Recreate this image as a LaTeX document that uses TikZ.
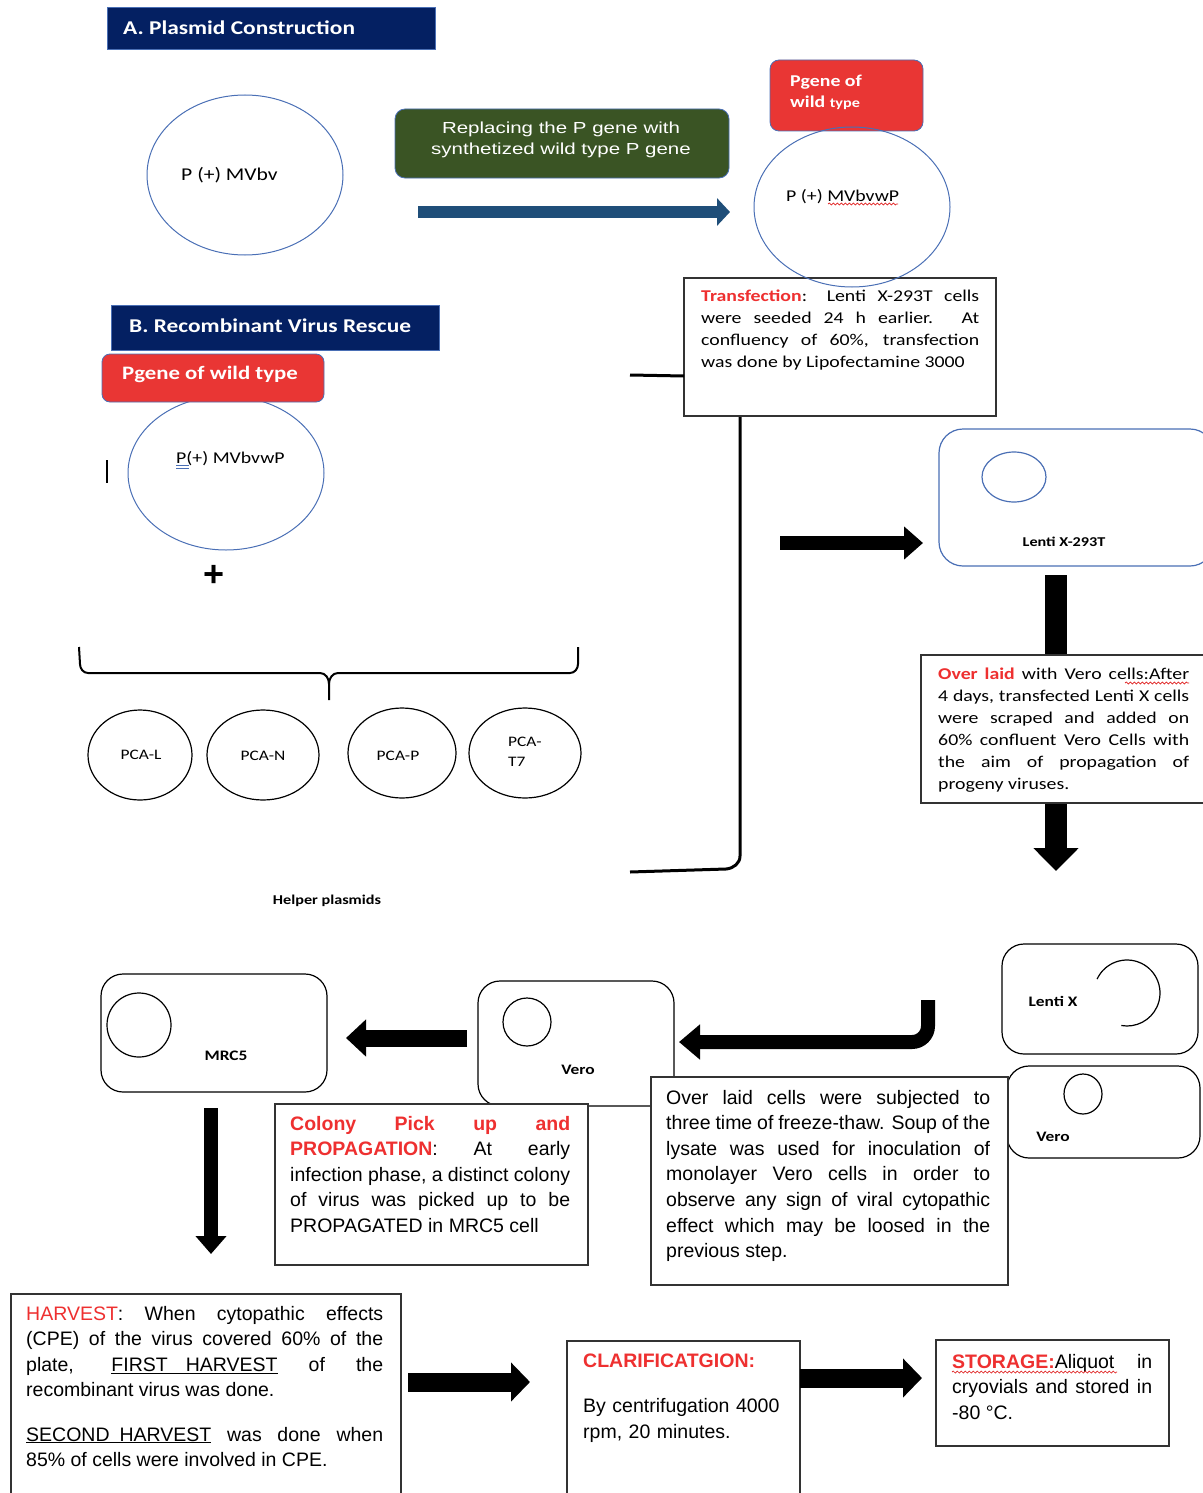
\documentclass[tikz,border=0pt]{standalone}
\usepackage{fontspec}
\usetikzlibrary{arrows.meta,decorations.pathmorphing}
\newfontfamily\cfont[FakeStretch=1.2]{Carlito}
\newfontfamily\afont{Liberation Sans}
\newfontfamily\asfont[FakeStretch=1.28]{Liberation Sans}
\definecolor{navy}{HTML}{042062}
\definecolor{boxred}{HTML}{E93634}
\definecolor{boxgreen}{HTML}{3A5424}
\definecolor{arrowblue}{HTML}{1F4E79}
\definecolor{ringblue}{HTML}{4A6FB5}
\definecolor{tred}{HTML}{EE3030}
\definecolor{spell}{HTML}{E02020}
\begin{document}
\begin{tikzpicture}[x=1pt,y=-1pt,
  title/.style={fill=navy,draw=ringblue,line width=0.8,anchor=north west,inner sep=0},
  txtbox/.style={draw=black!80,line width=1.2,fill=white},
  cellbox/.style={draw=black,line width=1.2,rounded corners=22,fill=white},
  celllabel/.style={font={\cfont\bfseries\fontsize{14.5}{16}\selectfont},inner sep=0,anchor=base},
  ctext/.style={font={\cfont\fontsize{16.5}{22}\selectfont},inner sep=0,anchor=base west,align=justify},
  atext/.style={font={\afont\fontsize{19.5}{25.6}\selectfont},inner sep=0,anchor=base west,align=justify},
  pca/.style={font={\cfont\fontsize{14.5}{20}\selectfont},inner sep=0},
  spellwave/.style={spell,line width=0.7,decorate,decoration={snake,amplitude=1pt,segment length=4pt}}
]
\useasboundingbox (0,0) rectangle (1202,1493);

% ---------------- Section A ----------------
\node[title,minimum width=328,minimum height=42] (tA) at (107,7) {};
\node[anchor=west,inner sep=0,text=white,font={\cfont\bfseries\fontsize{19.5}{22}\selectfont}] (tAt) at (123,28) {A. Plasmid Construction};

\draw[ringblue,line width=1] (245,175) ellipse [x radius=98,y radius=80];
\node[inner sep=0,anchor=base west,font={\cfont\fontsize{18}{20}\selectfont}] (pmv) at (181,180) {P (+) MVbv};

\draw[fill=boxgreen,draw=ringblue,line width=0.8,rounded corners=10] (395,109) rectangle (729,178);
\node[inner sep=0,align=center,text=white,font={\asfont\fontsize{16}{21}\selectfont}] (green) at (561,140)
  {Replacing the P gene with\\synthetized wild type P gene};

\coordinate (ba1) at (418,212);
\coordinate (ba2) at (730,212);
\draw[arrowblue,line width=12,-{Triangle[length=13pt,width=27pt]}] (ba1) -- (ba2);

% transfection box
\draw[txtbox] (684,278) rectangle (996,416);
\node[ctext,text width=278] (transf) at (701,301)
 {{\bfseries\color{tred}Transfection}: Lenti X-293T cells\linebreak were seeded 24 h earlier. At\linebreak confluency of 60\%, transfection\linebreak was done by Lipofectamine 3000};

% red box and ring top right
\draw[fill=boxred,draw=ringblue,line width=0.8,rounded corners=9] (770,60) rectangle (923,131);
\node[inner sep=0,anchor=base west,text=white,align=left] (pg1) at (790,87)
  {\cfont\bfseries\fontsize{16.5}{18}\selectfont Pgene of};
\node[inner sep=0,anchor=base west,text=white] (pg2) at (790,108)
  {\cfont\bfseries\fontsize{16.5}{18}\selectfont wild \fontsize{13.5}{16}\selectfont type};
\draw[ringblue,line width=1] (852,207) ellipse [x radius=98,y radius=80];
\node[inner sep=0,anchor=base west,font={\cfont\fontsize{16.5}{20}\selectfont}] (pmvw) at (786,201) {P (+) MVbvwP};
\draw[spellwave] (828,204) -- (898,204);

% bracket lines
\draw[line width=3] (630,375) -- (684,376);
\draw[line width=3] (740,417) -- (740,856) to[out=-90,in=5] (726,869) -- (630,872);

% arrow to Lenti X-293T
\coordinate (a1s) at (780,543);
\coordinate (a1e) at (923,543);
\draw[line width=14,-{Triangle[length=19pt,width=32pt]}] (a1s) -- (a1e);

% Lenti X-293T cell
\draw[draw=ringblue,line width=1.2,rounded corners=24,fill=white] (939,429) rectangle (1214,566);
\draw[ringblue,line width=1.2] (1014,477) ellipse [x radius=32,y radius=25];
\node[celllabel,font={\cfont\bfseries\fontsize{13.5}{16}\selectfont}] (lx293) at (1064,546) {Lenti X-293T};

% vertical arrow
\coordinate (v1s) at (1056,575);
\coordinate (v1e) at (1056,871);
\draw[line width=22,-{Triangle[length=23pt,width=44pt]}] (v1s) -- (v1e);

% over laid box
\draw[txtbox] (921,655) rectangle (1212,803);
\node[ctext,text width=251] (overlaid) at (938,679)
 {{\bfseries\color{tred}Over laid} with Vero cells:After\linebreak 4 days, transfected Lenti X cells\linebreak were scraped and added on\linebreak 60\% confluent Vero Cells with\linebreak the aim of propagation of\linebreak progeny viruses.};
\draw[spellwave] (1125,683) -- (1189,683);

% ---------------- Section B ----------------
\node[title,minimum width=328,minimum height=45] (tB) at (111,305) {};
\node[anchor=west,inner sep=0,text=white,font={\cfont\bfseries\fontsize{19.5}{22}\selectfont}] (tBt) at (129,326) {B. Recombinant Virus Rescue};

\draw[ringblue,line width=1] (226,473) ellipse [x radius=98,y radius=77];
\draw[fill=boxred,draw=ringblue,line width=0.8,rounded corners=8] (102,354) rectangle (324,402);
\node[inner sep=0,anchor=base west,text=white,font={\cfont\bfseries\fontsize{19}{20}\selectfont}] (pgB) at (122,379) {Pgene of wild type};
\node[inner sep=0,anchor=base west,font={\cfont\fontsize{16.5}{20}\selectfont}] (pmvB) at (176,463) {P(+) MVbvwP};
\draw[ringblue,line width=0.8] (176,465.5) -- (189,465.5) (176,468) -- (189,468);
\draw[line width=1.2] (107,460) -- (107,483);

\node[inner sep=0,font={\afont\bfseries\fontsize{36}{38}\selectfont}] (plus) at (214,576) {+};

% brace
\draw[line width=2,line join=round] (79,647) -- (80,664) to[out=-90,in=180] (88,673) -- (320,673) to[out=0,in=90] (329,684) -- (329,700);
\draw[line width=2,line join=round] (329,684) to[out=90,in=180] (338,673) -- (570,673) to[out=0,in=-90] (578,664) -- (578,647);

% helper plasmids
\draw[line width=1.2] (140,755) ellipse [x radius=52,y radius=45];
\draw[line width=1.2] (263,755) ellipse [x radius=56,y radius=45];
\draw[line width=1.2] (402,753) ellipse [x radius=54,y radius=45];
\draw[line width=1.2] (525,753) ellipse [x radius=56,y radius=45];
\node[pca] (pcaL) at (141,755) {PCA-L};
\node[pca] (pcaN) at (263,756) {PCA-N};
\node[pca] (pcaP) at (398,756) {PCA-P};
\node[pca,anchor=west,align=left] (pcaT) at (508,752) {PCA-\\T7};
\node[celllabel,font={\cfont\bfseries\fontsize{13.5}{16}\selectfont}] (helper) at (327,904) {Helper plasmids};

% ---------------- Bottom cells ----------------
\draw[cellbox] (1002,944) rectangle (1198,1054);
\node[celllabel] (lx) at (1053,1006) {Lenti X};
\draw[line width=1.2] (1127,993) ++(-155:33) arc[start angle=-155,end angle=100,radius=33];

\draw[cellbox] (1007,1066) rectangle (1200,1158);
\draw[line width=1.2] (1083,1094) ellipse [x radius=19,y radius=20];
\node[celllabel] (vero2) at (1053,1141) {Vero};

\coordinate (c1s) at (928,1000);
\coordinate (c1m) at (928,1042);
\coordinate (c1e) at (679,1042);
\draw[line width=14,rounded corners=16,-{Triangle[length=21pt,width=34pt]}] (c1s) -- (c1m) -- (c1e);

\draw[cellbox] (478,981) rectangle (674,1106);
\draw[line width=1.2] (527,1022) ellipse [x radius=24,y radius=24];
\node[celllabel] (vero1) at (578,1074) {Vero};

\draw[cellbox] (101,974) rectangle (327,1092);
\draw[line width=1.2] (139,1025) ellipse [x radius=32,y radius=32];
\node[celllabel] (mrc5) at (226,1060) {MRC5};

\coordinate (a2s) at (467,1038);
\coordinate (a2e) at (346,1038);
\draw[line width=17,-{Triangle[length=20pt,width=36pt]}] (a2s) -- (a2e);

\coordinate (a3s) at (211,1108);
\coordinate (a3e) at (211,1254);
\draw[line width=14,-{Triangle[length=18pt,width=30pt]}] (a3s) -- (a3e);

\draw[txtbox] (275,1104) rectangle (588,1265);
\node[atext,text width=280] (colony) at (290,1130)
 {{\bfseries\color{tred}Colony Pick up and\linebreak PROPAGATION}: At early\linebreak infection phase, a distinct colony\linebreak of virus was picked up to be\linebreak PROPAGATED in MRC5 cell};

\draw[txtbox] (651,1077) rectangle (1008,1285);
\node[atext,text width=324] (freeze) at (666,1104)
 {Over laid cells were subjected to\linebreak three time of freeze-thaw. Soup of the\linebreak lysate was used for inoculation of\linebreak monolayer Vero cells in order to\linebreak observe any sign of viral cytopathic\linebreak effect which may be loosed in the\linebreak previous step.};

\draw[txtbox] (11,1294) rectangle (401,1500);
\node[atext,text width=357] (harv1) at (26,1320)
 {{\color{tred}HARVEST}: When cytopathic effects\linebreak (CPE) of the virus covered 60\% of the\linebreak plate, \underline{FIRST\hspace{18pt}HARVEST} of the\linebreak recombinant virus was done.};
\node[atext,text width=357] (harv2) at (26,1441)
 {\underline{SECOND\hspace{10pt}HARVEST} was done when\linebreak 85\% of cells were involved in CPE.};

\coordinate (a4s) at (408,1382);
\coordinate (a4e) at (530,1382);
\draw[line width=19,-{Triangle[length=19pt,width=38pt]}] (a4s) -- (a4e);

\draw[txtbox] (567,1341) rectangle (800,1500);
\node[inner sep=0,anchor=base west,text=tred,font={\afont\bfseries\fontsize{19.5}{25.6}\selectfont}] (clar) at (583,1367) {CLARIFICATGION:};
\node[inner sep=0,anchor=base west,text width=210,align=left,font={\afont\fontsize{19.5}{26}\selectfont}] (clar2) at (583,1412) {By centrifugation 4000\\rpm, 20 minutes.};

\coordinate (a5s) at (800,1378);
\coordinate (a5e) at (922,1378);
\draw[line width=19,-{Triangle[length=19pt,width=38pt]}] (a5s) -- (a5e);

\draw[txtbox] (936,1340) rectangle (1169,1446);
\node[atext,text width=200] (stor) at (952,1368)
 {{\color{tred}\bfseries STORAGE:}Aliquot in\linebreak cryovials and stored in\linebreak -80 °C.};
\draw[spellwave] (952,1372) -- (1117,1372);
\end{tikzpicture}
\end{document}
